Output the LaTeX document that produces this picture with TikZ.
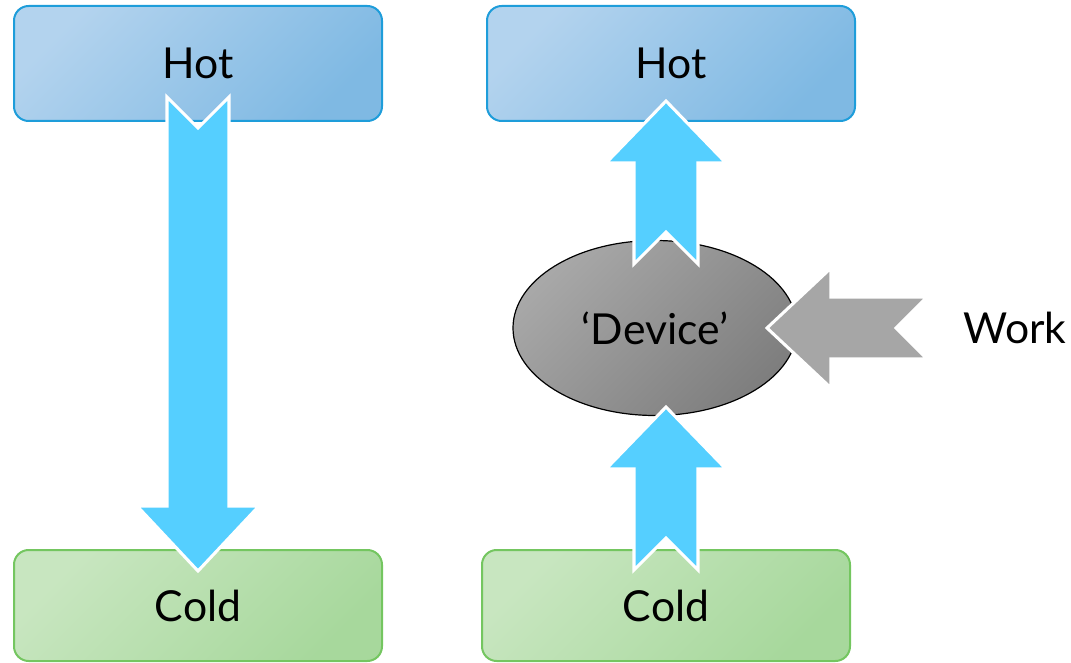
\documentclass[tikz,border=0pt]{standalone}
\usepackage{fontspec}
\setmainfont{Lato}
\usetikzlibrary{shapes.geometric,calc}
\definecolor{hotA}{HTML}{B3D3EE}
\definecolor{hotB}{HTML}{7FB9E3}
\definecolor{hotLine}{HTML}{1E9DDA}
\definecolor{coldA}{HTML}{C8E6C0}
\definecolor{coldB}{HTML}{A7D89C}
\definecolor{coldLine}{HTML}{74C660}
\definecolor{flow}{HTML}{55CFFF}
\definecolor{workc}{HTML}{A6A6A6}
\definecolor{devA}{HTML}{A8A8A8}
\definecolor{devB}{HTML}{7E7E7E}
\tikzset{
  lbl/.style={font=\fontsize{32}{38}\selectfont, text=black},
  hotbox/.style={lbl, draw=hotLine, line width=1.5pt, rounded corners=11pt,
    top color=hotA, bottom color=hotB, shading angle=45,
    minimum width=276pt, minimum height=86.25pt, inner sep=0pt},
  coldbox/.style={lbl, draw=coldLine, line width=1.5pt, rounded corners=11pt,
    top color=coldA, bottom color=coldB, shading angle=45,
    minimum width=276pt, minimum height=83.25pt, inner sep=0pt},
  device/.style={lbl, ellipse, draw=black, line width=0.9pt,
    top color=devA, bottom color=devB, shading angle=45,
    minimum width=213pt, minimum height=131.25pt, inner sep=0pt},
  flowarrow/.style={fill=flow, draw=white, line width=2.3pt, line join=miter},
  workarrow/.style={fill=workc, draw=white, line width=2.3pt, line join=miter},
}
\begin{document}
\begin{tikzpicture}[x=0.75pt, y=-0.75pt]
\useasboundingbox (0,0) rectangle (1071,663);
% boxes
\node[hotbox] (hotL) at (198,63.5) {Hot};
\node[hotbox] (hotR) at (671,63.5) {Hot};
\node[coldbox] (coldL) at (198,605.5) {Cold};
\node[coldbox] (coldR) at (666,605.5) {Cold};
\node[device] (dev) at (655,328) {‘Device’};
\node[lbl, anchor=west, inner sep=0pt] (work) at (963,328) {Work};
% left arrow: hot -> cold
\draw[flowarrow] (167,97) -- (198,128) -- (229,97) -- (229,506) -- (259,506)
  -- (198,571) -- (137,506) -- (167,506) -- cycle;
% right upper arrow: device -> hot
\draw[flowarrow] (634,264) -- (666,232) -- (698,264) -- (698,163) -- (726,163)
  -- (666,101) -- (606,163) -- (634,163) -- cycle;
% right lower arrow: cold -> device
\draw[flowarrow] (634,570) -- (666,538) -- (698,570) -- (698,469) -- (726,469)
  -- (666,407) -- (606,469) -- (634,469) -- cycle;
% work arrow: work -> device
\draw[workarrow] (927,297) -- (896,328) -- (927,359) -- (831,359) -- (831,388)
  -- (767,328) -- (831,268) -- (831,297) -- cycle;
\end{tikzpicture}
\end{document}
